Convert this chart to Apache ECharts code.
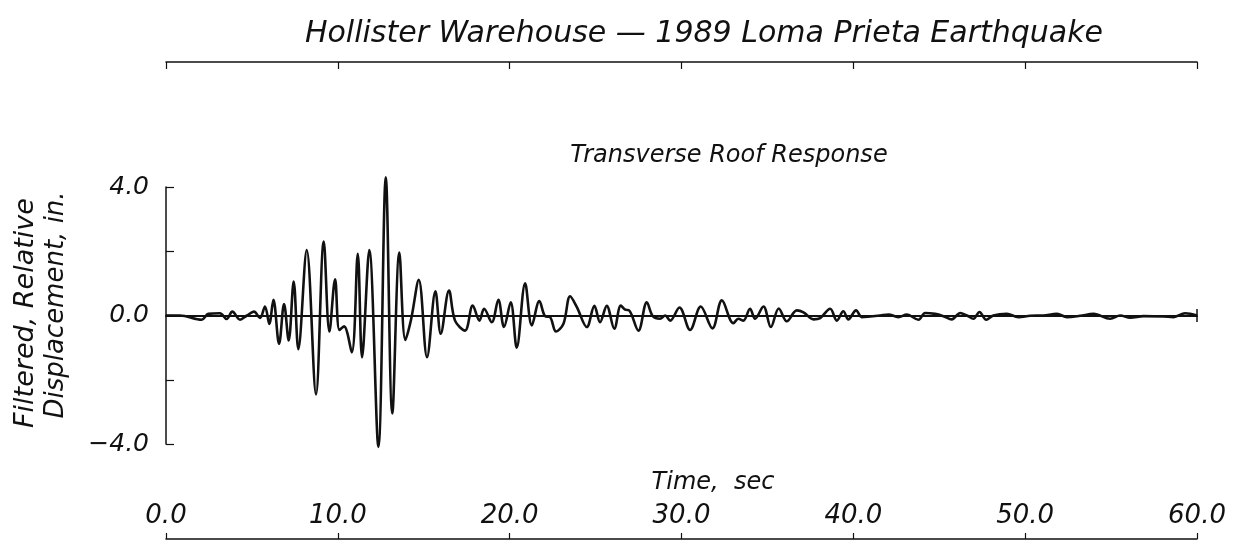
<!DOCTYPE html>
<html>
<head>
<meta charset="utf-8">
<title>Hollister Warehouse - Transverse Roof Response</title>
<script src="https://cdn.jsdelivr.net/npm/echarts@6/dist/echarts.min.js"></script>
<style>
  html, body { margin: 0; padding: 0; background: #fff; }
  #chart { width: 1240px; height: 542px; }
</style>
</head>
<body>
<div id="chart"></div>
<script>
const times = [0, 0.81, 2.08, 2.46, 3.14, 3.53, 3.86, 4.31, 4.71, 5.12, 5.47, 5.76, 6.01, 6.25, 6.58, 6.87,
  7.14, 7.43, 7.70, 8.19, 8.73, 9.18, 9.51, 9.84, 10.09, 10.36, 10.81, 11.16, 11.41, 11.83, 12.36, 12.79,
  13.17, 13.58, 13.93, 14.26, 14.71, 15.19, 15.68, 15.99, 16.47, 16.82, 17.40, 17.85, 18.24, 18.51, 18.96,
  19.34, 19.67, 20.06, 20.41, 20.90, 21.29, 21.73, 22.06, 22.35, 22.70, 23.13, 23.52, 23.91, 24.49, 24.93,
  25.26, 25.65, 26.09, 26.47, 26.72, 26.95, 27.49, 27.98, 28.33, 28.75, 29.05, 29.34, 29.88, 30.50, 31.12,
  31.80, 32.35, 33.02, 33.31, 33.60, 33.99, 34.28, 34.77, 35.20, 35.66, 36.13, 36.71, 37.10, 37.68, 38.07,
  38.65, 39.04, 39.42, 39.71, 40.16, 40.49, 40.98, 41.56, 42.04, 42.62, 43.11, 43.79, 44.18, 44.76, 45.24,
  45.73, 46.22, 46.61, 46.99, 47.34, 47.73, 48.15, 48.93, 49.61, 50.29, 51.06, 51.85, 52.43, 53.20, 53.98,
  54.95, 55.53, 56.11, 56.89, 58.05, 58.63, 59.31, 60];

// filtered relative displacement (in.)
const displacement = [0, 0, -0.13, 0.05, 0.07, -0.11, 0.12, -0.13, 0.0, 0.12, -0.08, 0.28, -0.26, 0.49, -0.88, 0.36,
  -0.78, 1.06, -1.05, 2.04, -2.46, 2.30, -0.50, 1.13, -0.45, -0.34, -1.15, 1.92, -1.30, 2.04, -4.09, 4.30,
  -3.05, 1.96, -0.76, -0.13, 1.11, -1.30, 0.75, -0.57, 0.78, -0.16, -0.47, 0.31, -0.16, 0.21, -0.21,
  0.49, -0.36, 0.41, -1.00, 1.00, -0.31, 0.45, -0.02, -0.05, -0.50, -0.26, 0.60, 0.26, -0.36, 0.30,
  -0.21, 0.30, -0.41, 0.31, 0.18, 0.16, -0.47, 0.41, -0.02, -0.10, 0.0, -0.16, 0.25, -0.45, 0.28,
  -0.40, 0.47, -0.24, -0.10, -0.16, 0.21, -0.10, 0.28, -0.36, 0.22, -0.18, 0.16, 0.10, -0.12, -0.08,
  0.21, -0.16, 0.13, -0.12, 0.16, -0.05, -0.03, 0, 0.03, -0.05, 0.03, -0.13, 0.08, 0.05, -0.02,
  -0.12, 0.08, 0, -0.10, 0.11, -0.13, 0, 0.05, -0.05, -0.01, 0, 0.05, -0.05, -0.01, 0.05,
  -0.10, 0, -0.07, -0.02, -0.03, -0.05, 0.07, 0];

const timeTicks = [0, 10, 20, 30, 40, 50, 60];
const dispTicks = [-4, -2, 0, 2, 4];
const dispLabelled = [-4, 0, 4];

const FONT = '"DejaVu Sans", "Liberation Sans", sans-serif';
const INK = '#111';

const chart = echarts.init(document.getElementById('chart'));

const fmt = v => (v < 0 ? '\u2212' : '') + Math.abs(v).toFixed(1);
const txt = (size) => ({ fontFamily: FONT, fontStyle: 'italic', fontWeight: 'lighter', fontSize: size, color: INK });

chart.setOption({
  backgroundColor: '#fff',
  animation: false,
  title: [
    { text: 'Hollister Warehouse \u2014 1989 Loma Prieta Earthquake', left: 699, top: 14, textAlign: 'center',
      textStyle: txt(30) },
    { text: 'Transverse Roof Response', left: 724, top: 139, textAlign: 'center', textStyle: txt(24) }
  ],
  grid: [
    { left: 166, right: 43, top: 187, bottom: 98 },
    { left: 166, right: 43, top: 62, height: 0 },
    { left: 166, right: 43, top: 539, height: 0 }
  ],
  xAxis: [
    {
      gridIndex: 0, type: 'value', min: timeTicks[0], max: timeTicks[timeTicks.length - 1], interval: 10,
      axisLine: { show: true, onZero: true, lineStyle: { color: INK, width: 2 } },
      axisTick: { show: false }, axisLabel: { show: false }, splitLine: { show: false }
    },
    {
      gridIndex: 1, type: 'value', position: 'top', min: 0, max: 60, interval: 10,
      axisLine: { lineStyle: { color: INK, width: 1.5 } },
      axisTick: { inside: true, length: 7, lineStyle: { color: INK, width: 1.2 } },
      axisLabel: { show: false }, splitLine: { show: false }
    },
    {
      gridIndex: 2, type: 'value', position: 'bottom', min: 0, max: 60, interval: 10,
      axisLine: { lineStyle: { color: INK, width: 1.5 } },
      axisTick: { inside: true, length: 6, lineStyle: { color: INK, width: 1.2 } },
      axisLabel: { inside: true, margin: 10, formatter: v => v.toFixed(1), ...txt(26) },
      splitLine: { show: false }
    }
  ],
  yAxis: [
    {
      gridIndex: 0, type: 'value', min: dispTicks[0], max: dispTicks[dispTicks.length - 1], interval: 2,
      axisLine: { show: true, lineStyle: { color: INK, width: 1.5 } },
      axisTick: { show: true, inside: true, length: 8, lineStyle: { color: INK, width: 1.2 } },
      axisLabel: { margin: 17, formatter: v => dispLabelled.includes(v) ? fmt(v) : '', ...txt(25) },
      splitLine: { show: false }
    },
    { gridIndex: 1, type: 'value', show: false },
    { gridIndex: 2, type: 'value', show: false }
  ],
  graphic: [
    { type: 'text', x: 26, y: 313, rotation: Math.PI / 2,
      style: { text: 'Filtered, Relative', font: 'italic lighter 27px ' + FONT, fill: INK,
        align: 'center', verticalAlign: 'middle' } },
    { type: 'text', x: 56, y: 305, rotation: Math.PI / 2,
      style: { text: 'Displacement, in.', font: 'italic lighter 26px ' + FONT, fill: INK,
        align: 'center', verticalAlign: 'middle' } },
    { type: 'text', x: 713, y: 483,
      style: { text: 'Time,  sec', font: 'italic lighter 24px ' + FONT, fill: INK,
        align: 'center', verticalAlign: 'middle' } }
  ],
  series: [
    {
      type: 'line',
      xAxisIndex: 0, yAxisIndex: 0,
      data: times.map((t, i) => [t, displacement[i]]),
      showSymbol: false,
      clip: false,
      smooth: 0.35,
      lineStyle: { color: INK, width: 2.6 },
      markLine: {
        silent: true, symbol: 'none', label: { show: false },
        lineStyle: { color: INK, width: 1.5, type: 'solid' },
        data: [[{ coord: [60, -0.2] }, { coord: [60, 0.2] }]]
      }
    }
  ]
});
</script>
</body>
</html>
